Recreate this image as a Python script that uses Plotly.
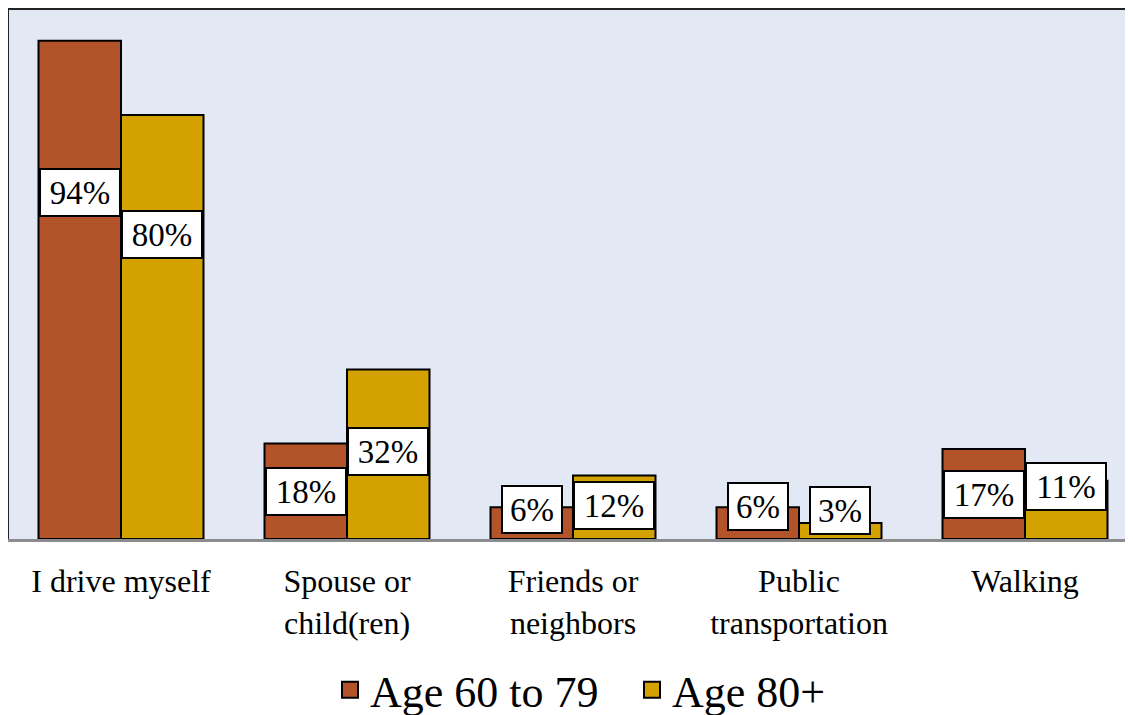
import plotly.graph_objects as go

categories = ["I drive myself", "Spouse or<br>child(ren)", "Friends or<br>neighbors",
              "Public<br>transportation", "Walking"]
series_names = ["Age 60 to 79", "Age 80+"]
age_60_79 = [94, 18, 6, 6, 17]
age_80_plus = [80, 32, 12, 3, 11]
label_texts_60_79 = ["94%", "18%", "6%", "6%", "17%"]
label_texts_80_plus = ["80%", "32%", "12%", "3%", "11%"]

# label placement (style): vertical position of the boxed labels in axis units
label_y_60_79 = [65.3, 9.0, 5.5, 6.2, 8.4]
label_y_80_plus = [57.4, 16.5, 6.4, 5.3, 10.0]

colors = ["#B3532A", "#D4A200"]
FONT = "Liberation Serif"

fig = go.Figure()
for name, vals, col in zip(series_names, [age_60_79, age_80_plus], colors):
    fig.add_trace(go.Bar(
        x=categories, y=vals, name=name, showlegend=False,
        marker=dict(color=col, line=dict(color="black", width=2)),
    ))
# legend entries with larger square swatches
for name, col in zip(series_names, colors):
    fig.add_trace(go.Scatter(
        x=[None], y=[None], name=name, mode="markers",
        marker=dict(symbol="square", size=22, color=col, line=dict(color="black", width=2)),
    ))

annotations = []
for vals_y, texts, shift in [(label_y_60_79, label_texts_60_79, -41),
                             (label_y_80_plus, label_texts_80_plus, 41)]:
    for c, yv, t in zip(categories, vals_y, texts):
        annotations.append(dict(
            x=c, y=yv, xref="x", yref="y", text=t, showarrow=False,
            xshift=shift, yanchor="middle", xanchor="center",
            width=50 + 20 * (len(t) - 2), height=37, align="center", valign="middle",
            font=dict(family=FONT, size=33, color="black"),
            bgcolor="white", bordercolor="black", borderwidth=2, borderpad=4,
        ))

fig.update_layout(
    width=1130, height=745,
    margin=dict(l=0, r=0, t=1, b=214),
    paper_bgcolor="white", plot_bgcolor="#E2E9F4",
    barmode="group", bargap=0.27, bargroupgap=0,
    font=dict(family=FONT, color="black"),
    showlegend=True,
    legend=dict(orientation="h", x=(322 / 1130), xanchor="left", y=-0.285, yanchor="middle",
                font=dict(family=FONT, size=44, color="black"),
                entrywidth=257, entrywidthmode="pixels",
                traceorder="normal", bgcolor="rgba(0,0,0,0)"),
    annotations=annotations,
    shapes=[
        dict(type="line", xref="paper", yref="paper", x0=0, x1=1, y0=1, y1=1,
             line=dict(color="#222222", width=2), layer="above"),
        dict(type="line", xref="paper", yref="paper", x0=0, x1=0, y0=0, y1=1,
             line=dict(color="#222222", width=2), layer="above"),
    ],
)
fig.update_xaxes(tickfont=dict(family=FONT, size=32, color="black"), showline=True,
                 linecolor="#8C8C8C", linewidth=3, ticks="", showgrid=False,
                 ticklabelstandoff=12)
fig.update_yaxes(range=[0, 100], showticklabels=False, showgrid=False, zeroline=False,
                 ticks="")

fig.write_html("out.html")
